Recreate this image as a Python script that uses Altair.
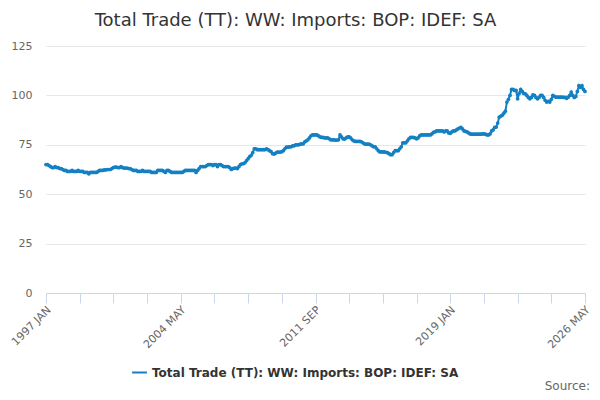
import pandas as pd
import altair as alt

series_name = "Total Trade (TT): WW: Imports: BOP: IDEF: SA"

# monthly values, Jan 1997 .. May 2026
y1997 = [65, 65, 64.5, 64, 63.5, 63.5, 64, 63.5, 63.5, 63, 63, 62.5]
y1998 = [62, 62, 61.5, 61.5, 61.5, 62, 61.5, 61.5, 61.5, 62, 61.5, 61.5]
y1999 = [61.5, 61, 61, 61, 60.3, 61, 61, 61, 61, 61, 61.5, 62]
y2000 = [62, 62, 62.3, 62.3, 62.5, 62.5, 62.5, 63, 63.5, 63.7, 63.7, 63.5]
y2001 = [63.5, 64, 63.5, 63.2, 63.2, 63.2, 63, 63, 62.5, 62, 62, 62]
y2002 = [61.5, 61.5, 61.5, 62, 61.5, 61.5, 61.5, 61.5, 61.5, 61, 61, 61]
y2003 = [61, 62, 62, 62, 62, 61.5, 61, 62, 62, 61.5, 61, 61]
y2004 = [61, 61, 61, 61, 61, 61, 61.5, 62, 62, 62, 62, 62]
y2005 = [62, 62, 61, 62, 63, 64, 64, 64, 64, 64.5, 65, 65]
y2006 = [65, 64.5, 65, 65, 64, 65, 65, 64.5, 64, 64, 64, 64]
y2007 = [63.5, 62.5, 63, 63.2, 63.2, 63, 64, 65, 65.4, 65.5, 66, 67]
y2008 = [68, 69, 69.7, 71, 73, 73, 72.5, 72.5, 72.5, 72.5, 72.5, 72.5]
y2009 = [73, 72.5, 72, 71.5, 70.5, 70.3, 70.8, 71.3, 71.3, 71.3, 71.5, 72]
y2010 = [73, 73.8, 73.8, 74, 74, 74.5, 74.5, 75, 75, 75, 75.3, 75.5]
y2011 = [75.5, 76.5, 77, 77.5, 78.5, 79.5, 80, 80, 80, 80, 79.5, 79]
y2012 = [78.7, 78.7, 78.5, 78.5, 78.5, 78, 77.5, 77.5, 77.5, 77.4, 77.4, 77.5]
y2013 = [80, 79, 78, 77.9, 78.5, 79, 79, 78.5, 77.5, 77, 76.7, 76.7]
y2014 = [76.7, 76.7, 76.5, 76, 75.5, 75.3, 75.3, 75.3, 75, 74.5, 74, 74]
y2015 = [73, 72, 71.4, 71.4, 71.4, 71.4, 71.2, 71, 70.5, 70, 70, 71]
y2016 = [72, 72, 72, 73, 74, 76, 76, 76, 77, 78, 78.7, 78.7]
y2017 = [78.7, 78.5, 78, 78.5, 79.5, 80, 80, 80, 80, 80, 80, 80]
y2018 = [80.5, 81.3, 81.5, 82, 82, 82, 82, 82, 81.5, 82, 82, 81]
y2019 = [80.8, 81.5, 82, 82, 82.5, 83, 83.5, 83.8, 83, 82, 81.8, 81.5]
y2020 = [81, 80.5, 80.4, 80.4, 80.4, 80.4, 80.4, 80.4, 80.4, 80.5, 80.5, 80.4]
y2021 = [80, 80, 80.5, 82, 82.5, 83.8, 84, 86, 89, 89.5, 90, 91]
y2022 = [92, 96.6, 98, 100, 103, 103, 102.5, 102.5, 98.3, 101, 103, 102]
y2023 = [101, 100.8, 100, 99, 98.3, 99, 100.3, 100, 99, 98.3, 99, 100]
y2024 = [100, 99, 97.5, 96.6, 97, 96.6, 98, 100, 99.5, 99.1, 99.1, 99.1]
y2025 = [99.1, 99.1, 99, 99, 98.5, 99.1, 100, 101.7, 100, 99, 99.5, 102]
y2026 = [105, 104, 105, 103, 102]

years = [y1997, y1998, y1999, y2000, y2001, y2002, y2003, y2004, y2005, y2006,
         y2007, y2008, y2009, y2010, y2011, y2012, y2013, y2014, y2015, y2016,
         y2017, y2018, y2019, y2020, y2021, y2022, y2023, y2024, y2025, y2026]

tick_labels = ["1997 JAN", "2004 MAY", "2011 SEP", "2019 JAN", "2026 MAY"]

values = [v for yr in years for v in yr]
df = pd.DataFrame({"i": range(len(values)), "value": values, "series": series_name})

blue = "#1380c3"
label_js = "[" + ",".join("'%s'" % t for t in tick_labels) + "]"

x = alt.X("i:Q", title=None,
          scale=alt.Scale(domain=[0, len(values) - 1], nice=False, zero=False),
          axis=alt.Axis(values=list(range(0, len(values), 22)),
                        labelExpr="datum.value % 88 == 0 ? " + label_js + "[datum.value / 88] : ''",
                        labelAngle=315, labelAlign="right", labelBaseline="middle",
                        labelPadding=5, labelOffset=3, tickSize=10, tickColor="#ccd6eb",
                        domainColor="#ccd6eb", labelFontSize=11, labelColor="#666666",
                        labelFont="DejaVu Sans", grid=False))
y = alt.Y("value:Q", title=None,
          scale=alt.Scale(domain=[0, 125], nice=False),
          axis=alt.Axis(values=[0, 25, 50, 75, 100, 125], domain=False, ticks=False,
                        labelPadding=14, labelFontSize=11, labelColor="#666666",
                        labelFont="DejaVu Sans", gridColor="#e6e6e6"))

line = alt.Chart(df).mark_line(strokeWidth=2).encode(
    x=x, y=y,
    color=alt.Color("series:N", scale=alt.Scale(range=[blue]),
                    legend=alt.Legend(title=None, orient="none", legendX=85, legendY=318,
                                      symbolType="stroke", symbolStrokeWidth=2,
                                      symbolSize=220, labelFont="DejaVu Sans",
                                      labelFontSize=12, labelFontWeight="bold",
                                      labelColor="#333333", labelLimit=500))
)
points = alt.Chart(df).mark_circle(size=14, opacity=1, color=blue).encode(x=x, y=y)

source = alt.Chart(pd.DataFrame({"t": ["Source:"]})).mark_text(
    align="right", baseline="alphabetic", fontSize=12, color="#666666", font="DejaVu Sans"
).encode(text="t:N", x=alt.value(544), y=alt.value(344))

chart = (line + points + source).properties(
    width=539, height=247,
    title=alt.TitleParams(series_name, anchor="middle", fontSize=18, fontWeight="normal",
                          color="#333333", font="DejaVu Sans", offset=10, dx=-20),
    autosize=alt.AutoSizeParams(type="none"),
    padding={"left": 38, "top": 38, "right": 7, "bottom": 99},
).configure_view(stroke=None)

chart.save("out.html", embed_options={"renderer": "svg", "actions": False})
